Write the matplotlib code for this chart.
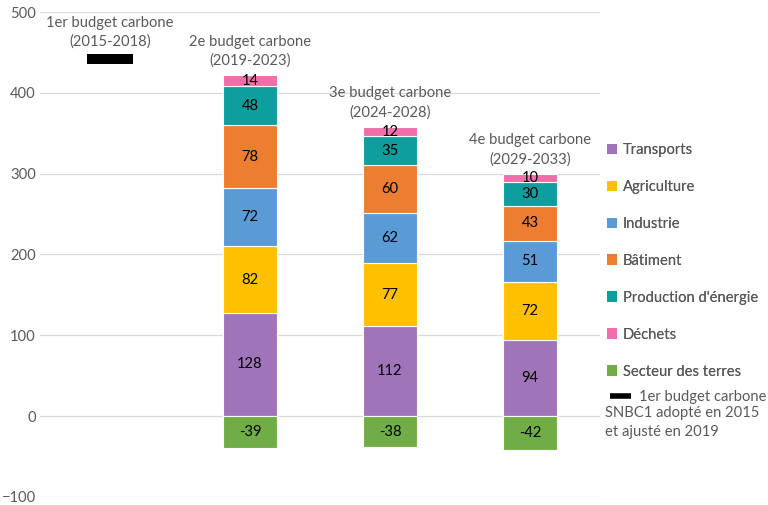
import matplotlib
matplotlib.use("Agg")
import matplotlib.pyplot as plt
from matplotlib.patches import Patch
from matplotlib.lines import Line2D
import numpy as np

plt.rcParams['font.family'] = ['Lato', 'DejaVu Sans']

categories = ["1er budget carbone\n(2015-2018)", "2e budget carbone\n(2019-2023)",
              "3e budget carbone\n(2024-2028)", "4e budget carbone\n(2029-2033)"]
series_names = ["Transports", "Agriculture", "Industrie", "Bâtiment",
                "Production d'énergie", "Déchets"]
transports = [0, 128, 112, 94]
agriculture = [0, 82, 77, 72]
industrie = [0, 72, 62, 51]
batiment = [0, 78, 60, 43]
energie = [0, 48, 35, 30]
dechets = [0, 14, 12, 10]
terres = [0, -39, -38, -42]
budget1 = 442
yticks = [-100, 0, 100, 200, 300, 400, 500]

colors = ["#A074B9", "#FFC000", "#5B9BD5", "#ED7D31", "#0E9E9E", "#F06EA9"]
terres_color = "#70AD47"
gray = "#595959"
FS = 10.6

fig = plt.figure(figsize=(7.68, 5.05), dpi=100)
ax = fig.add_axes([40/768, 8/505, 560/768, 485/505])

x = np.arange(len(categories))
w = 0.39
stacks = [transports, agriculture, industrie, batiment, energie, dechets]
bottom = np.zeros(len(categories))
for vals, col in zip(stacks, colors):
    vals = np.array(vals, dtype=float)
    ax.bar(x[1:], vals[1:], w, bottom=bottom[1:], color=col,
           edgecolor="white", linewidth=0.8, zorder=3)
    for xi, v, b in zip(x[1:], vals[1:], bottom[1:]):
        ax.text(xi, b + v/2, f"{int(v)}", ha="center", va="center",
                fontsize=FS, color="black", zorder=4)
    bottom += vals
terres_arr = np.array(terres, dtype=float)
ax.bar(x[1:], terres_arr[1:], w, color=terres_color, edgecolor="white",
       linewidth=0.8, zorder=3)
for xi, v in zip(x[1:], terres_arr[1:]):
    ax.text(xi, v/2, f"{int(v)}", ha="center", va="center",
            fontsize=FS, color="black", zorder=4)

ax.hlines(budget1, x[0]-0.165, x[0]+0.165, color="black", lw=7.2,
          zorder=3, capstyle="butt")

tops = [budget1] + list(bottom[1:])
for xi, t, lab in zip(x, tops, categories):
    off = 7 if xi == 0 else 5
    ax.annotate(lab, (xi, t), xytext=(0, off), textcoords="offset points",
                ha="center", va="bottom", fontsize=FS, color=gray,
                linespacing=1.45)

ax.set_xlim(-0.5, 3.5)
ax.set_ylim(-100, 500)
ax.set_yticks(yticks)
ax.set_xticks([])
ax.tick_params(axis="y", length=0, labelsize=FS, labelcolor=gray, pad=3)
for lbl in ax.get_yticklabels():
    lbl.set_verticalalignment("center_baseline")
ax.grid(axis="y", color="#D9D9D9", lw=0.9, zorder=0)
for s in ax.spines.values():
    s.set_visible(False)

handles = [Patch(facecolor=c, label=n) for c, n in zip(colors, series_names)]
handles.append(Patch(facecolor=terres_color, label="Secteur des terres"))
leg = fig.legend(handles=handles, loc="upper left",
                 bbox_to_anchor=(601/768, 1 - 137/505), frameon=False,
                 fontsize=FS, labelcolor=gray, handlelength=0.7,
                 handleheight=0.7, handletextpad=0.4, labelspacing=1.56,
                 borderaxespad=0)
fig.add_artist(leg)
leg2 = fig.legend(handles=[Line2D([0], [0], color="black", lw=4,
                                  solid_capstyle="butt")],
                  labels=["1er budget carbone"], loc="upper left",
                  bbox_to_anchor=(604/768, 1 - 384/505), frameon=False,
                  fontsize=FS, labelcolor=gray, handlelength=1.43,
                  handletextpad=0.55, borderaxespad=0)
fig.text(605/768, 1 - 406/505, "SNBC1 adopté en 2015\net ajusté en 2019",
         ha="left", va="top", fontsize=FS, color=gray, linespacing=1.45)

fig.savefig("out.png", dpi=100)
